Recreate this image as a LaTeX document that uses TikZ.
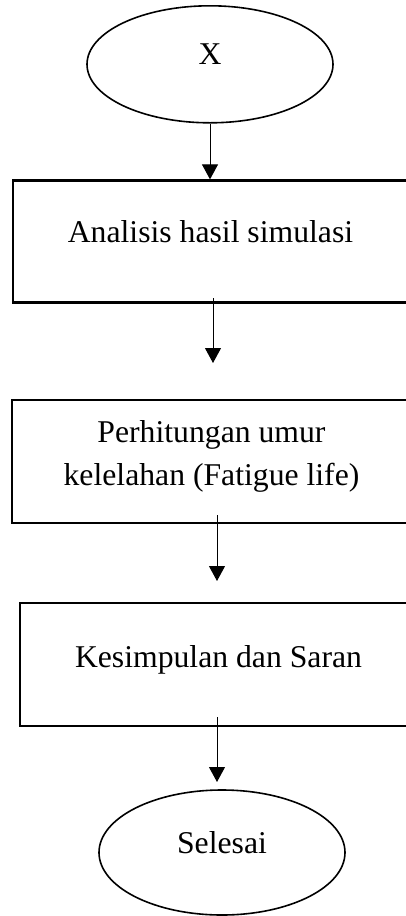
\documentclass[tikz,border=0pt]{standalone}
\usepackage{fontspec}
\setmainfont{Liberation Serif}
\usetikzlibrary{shapes.geometric,arrows.meta}
\tikzset{
  term/.style={ellipse, draw, line width=1.6pt, inner sep=0pt,
    minimum width=246pt, text height=22pt, text depth=21pt},
  stepbox/.style={rectangle, draw, line width=2.3pt, inner sep=0pt},
  txt/.style={inner sep=0pt, anchor=base},
  arr/.style={line width=1pt, -{Triangle[width=16pt,length=15pt]}}
}
\begin{document}
\begin{tikzpicture}[x=1pt,y=-1pt,font=\fontsize{31.7}{43}\selectfont]
\useasboundingbox (0,0) rectangle (406,916);
\clip (0,0) rectangle (406,916);
% terminals
\node[term, minimum height=117pt] (x) at (210,64.3) {X};
\node[term, minimum height=125pt] (end) at (222,852.5) {Selesai};
% boxes
\node[stepbox, minimum width=395pt, minimum height=122pt] (b1) at (210.5,241.5) {};
\node[stepbox, minimum width=399pt, minimum height=123pt] (b2) at (211.5,461.5) {};
\node[stepbox, minimum width=397pt, minimum height=123pt] (b3) at (218.5,664.5) {};
% texts
\node[txt] (t1) at (210.5,242) {Analisis hasil simulasi};
\node[txt] (t2) at (211.5,485) {\begin{tabular}[b]{@{}c@{}}Perhitungan umur\\kelelahan (Fatigue life)\end{tabular}};
\node[txt] (t3) at (218.5,667) {Kesimpulan dan Saran};
% connector coordinates
\coordinate (a2s) at (213,298);
\coordinate (a2e) at (213,363);
\coordinate (a3s) at (217,515);
\coordinate (a3e) at (217,581);
\coordinate (a4s) at (217,717);
\coordinate (a4e) at (217,782);
% connectors
\draw[arr] (x.south) -- (x.south |- b1.north);
\draw[arr] (a2s) -- (a2e);
\draw[arr] (a3s) -- (a3e);
\draw[arr] (a4s) -- (a4e);
\end{tikzpicture}
\end{document}
